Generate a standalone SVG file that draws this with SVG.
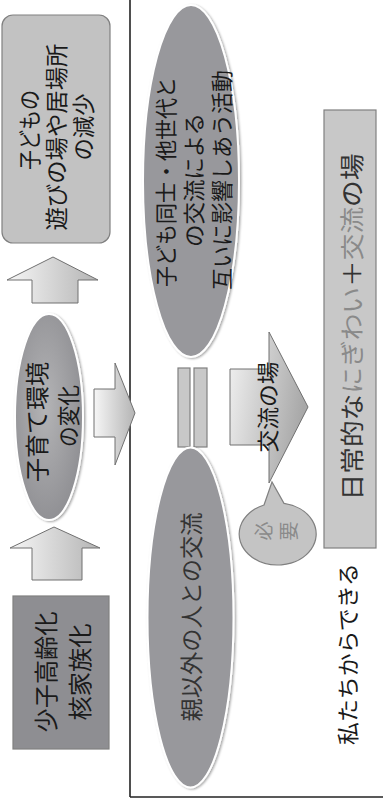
<svg xmlns="http://www.w3.org/2000/svg" width="383" height="802" viewBox="0 0 383 802">
<style>
text{font-family:"Noto Sans CJK JP","Noto Sans CJK SC",sans-serif;text-anchor:middle;dominant-baseline:central;fill:#1a1a1a}
.box{stroke:#808080;stroke-width:1.2}
.ell{stroke:#fff;stroke-width:2;filter:url(#sh)}
.arr{stroke:#707070;stroke-width:1}
</style>
<defs>
<filter id="sh" x="-20%" y="-10%" width="140%" height="120%"><feDropShadow dx="1.5" dy="1" stdDeviation="1.2" flood-color="#000" flood-opacity="0.35"/></filter>
<linearGradient id="ga" x1="0" y1="0" x2="1" y2="0"><stop offset="0" stop-color="#f6f6f6"/><stop offset="1" stop-color="#b4b4b4"/></linearGradient>
<linearGradient id="gb" x1="0" y1="0" x2="1" y2="0.3"><stop offset="0" stop-color="#f2f2f2"/><stop offset="1" stop-color="#a8a8a8"/></linearGradient>
<radialGradient id="ge" cx="0.45" cy="0.45" r="0.6"><stop offset="0" stop-color="#b4b4b6"/><stop offset="1" stop-color="#8e8e92"/></radialGradient>
</defs>

<g id="frame" fill="none" stroke="#222" stroke-width="1.6">
<line x1="130" y1="0" x2="130" y2="797"/>
<line x1="130" y1="797" x2="383" y2="797"/>
</g>

<g id="connectors">
<polygon class="arr" fill="url(#ga)" points="54,527 100,548 82,548 82,580 32,580 32,548 10,548"/>
<polygon class="arr" fill="url(#ga)" points="53,257 98,280 78,280 78,303 32,303 32,280 7,280"/>
<polygon class="arr" fill="url(#ga)" points="94,389 115,389 115,363 135,413 115,465 115,437 94,437"/>
</g>

<g id="n-shoushi">
<rect class="box" x="13" y="596" width="96" height="153" fill="#8e8e92"/>
<text transform="translate(44,672) rotate(-90)" font-size="24" textLength="121" lengthAdjust="spacingAndGlyphs">少子高齢化</text>
<text transform="translate(78,672) rotate(-90)" font-size="24" textLength="97" lengthAdjust="spacingAndGlyphs">核家族化</text>
</g>

<g id="n-kosodate">
<ellipse class="ell" cx="49" cy="417" rx="34" ry="103" fill="url(#ge)"/>
<text transform="translate(35,422) rotate(-90)" font-size="24" textLength="120" lengthAdjust="spacingAndGlyphs">子育て環境</text>
<text transform="translate(67,416) rotate(-90)" font-size="23" textLength="62" lengthAdjust="spacingAndGlyphs">の変化</text>
</g>

<g id="n-asobiba">
<rect class="box" x="2" y="15" width="108" height="228" rx="11" fill="#c2c2c2"/>
<text transform="translate(28,130) rotate(-90)" font-size="23" textLength="80" lengthAdjust="spacingAndGlyphs">子どもの</text>
<text transform="translate(55,137) rotate(-90)" font-size="23" textLength="187" lengthAdjust="spacingAndGlyphs">遊びの場や居場所</text>
<text transform="translate(82,127) rotate(-90)" font-size="23" textLength="67" lengthAdjust="spacingAndGlyphs">の減少</text>
</g>

<g id="n-katsudou">
<ellipse class="ell" cx="191" cy="181" rx="48" ry="176" fill="#98989c"/>
<text transform="translate(164,182) rotate(-90)" font-size="22" textLength="210" lengthAdjust="spacingAndGlyphs">子ども同士・他世代と</text>
<text transform="translate(192,180) rotate(-90)" font-size="22" textLength="134" lengthAdjust="spacingAndGlyphs">の交流による</text>
<text transform="translate(220,180) rotate(-90)" font-size="22" textLength="220" lengthAdjust="spacingAndGlyphs">互いに影響しあう活動</text>
</g>

<g id="n-equal">
<rect class="box" x="178" y="368" width="12" height="79" fill="#c8c8c8"/>
<rect class="box" x="194" y="368" width="13" height="79" fill="#c8c8c8"/>
</g>

<g id="n-oyaigai">
<ellipse class="ell" cx="190.5" cy="617.5" rx="43" ry="170" fill="#98989c"/>
<text transform="translate(190,617) rotate(-90)" font-size="23" textLength="209" lengthAdjust="spacingAndGlyphs" style="fill:#333">親以外の人との交流</text>
</g>

<g id="n-kouryuunoba">
<polygon class="arr" fill="url(#gb)" points="230,369 269,369 269,332 308,407 269,483 269,445 230,445"/>
<text transform="translate(266,407) rotate(-90)" font-size="22" textLength="91" lengthAdjust="spacingAndGlyphs">交流の場</text>
</g>

<g id="n-hitsuyou">
<path class="box" fill="#c4c4c4" d="M264,505 L272,482 L284,503.4 A38.5,31 0 1 1 264,505 Z"/>
<text transform="translate(262,531) rotate(-90)" font-size="19" style="fill:#8a8a8a">必</text>
<text transform="translate(287,531) rotate(-90)" font-size="19" style="fill:#8a8a8a">要</text>
</g>

<g id="n-nigiwai">
<rect class="box" x="324" y="110" width="52" height="438" fill="#c8c8c8"/>
<text transform="translate(350,327) rotate(-90)" font-size="24" textLength="347" lengthAdjust="spacingAndGlyphs"><tspan style="fill:#333">日常的な</tspan><tspan style="fill:#8a8a8a">にぎわい</tspan><tspan style="fill:#333">＋</tspan><tspan style="fill:#8a8a8a">交流</tspan><tspan style="fill:#333">の場</tspan></text>
</g>

<g id="n-watashitachi">
<text transform="translate(346,654) rotate(-90)" font-size="22" textLength="182" lengthAdjust="spacingAndGlyphs">私たちからできる</text>
</g>
</svg>
